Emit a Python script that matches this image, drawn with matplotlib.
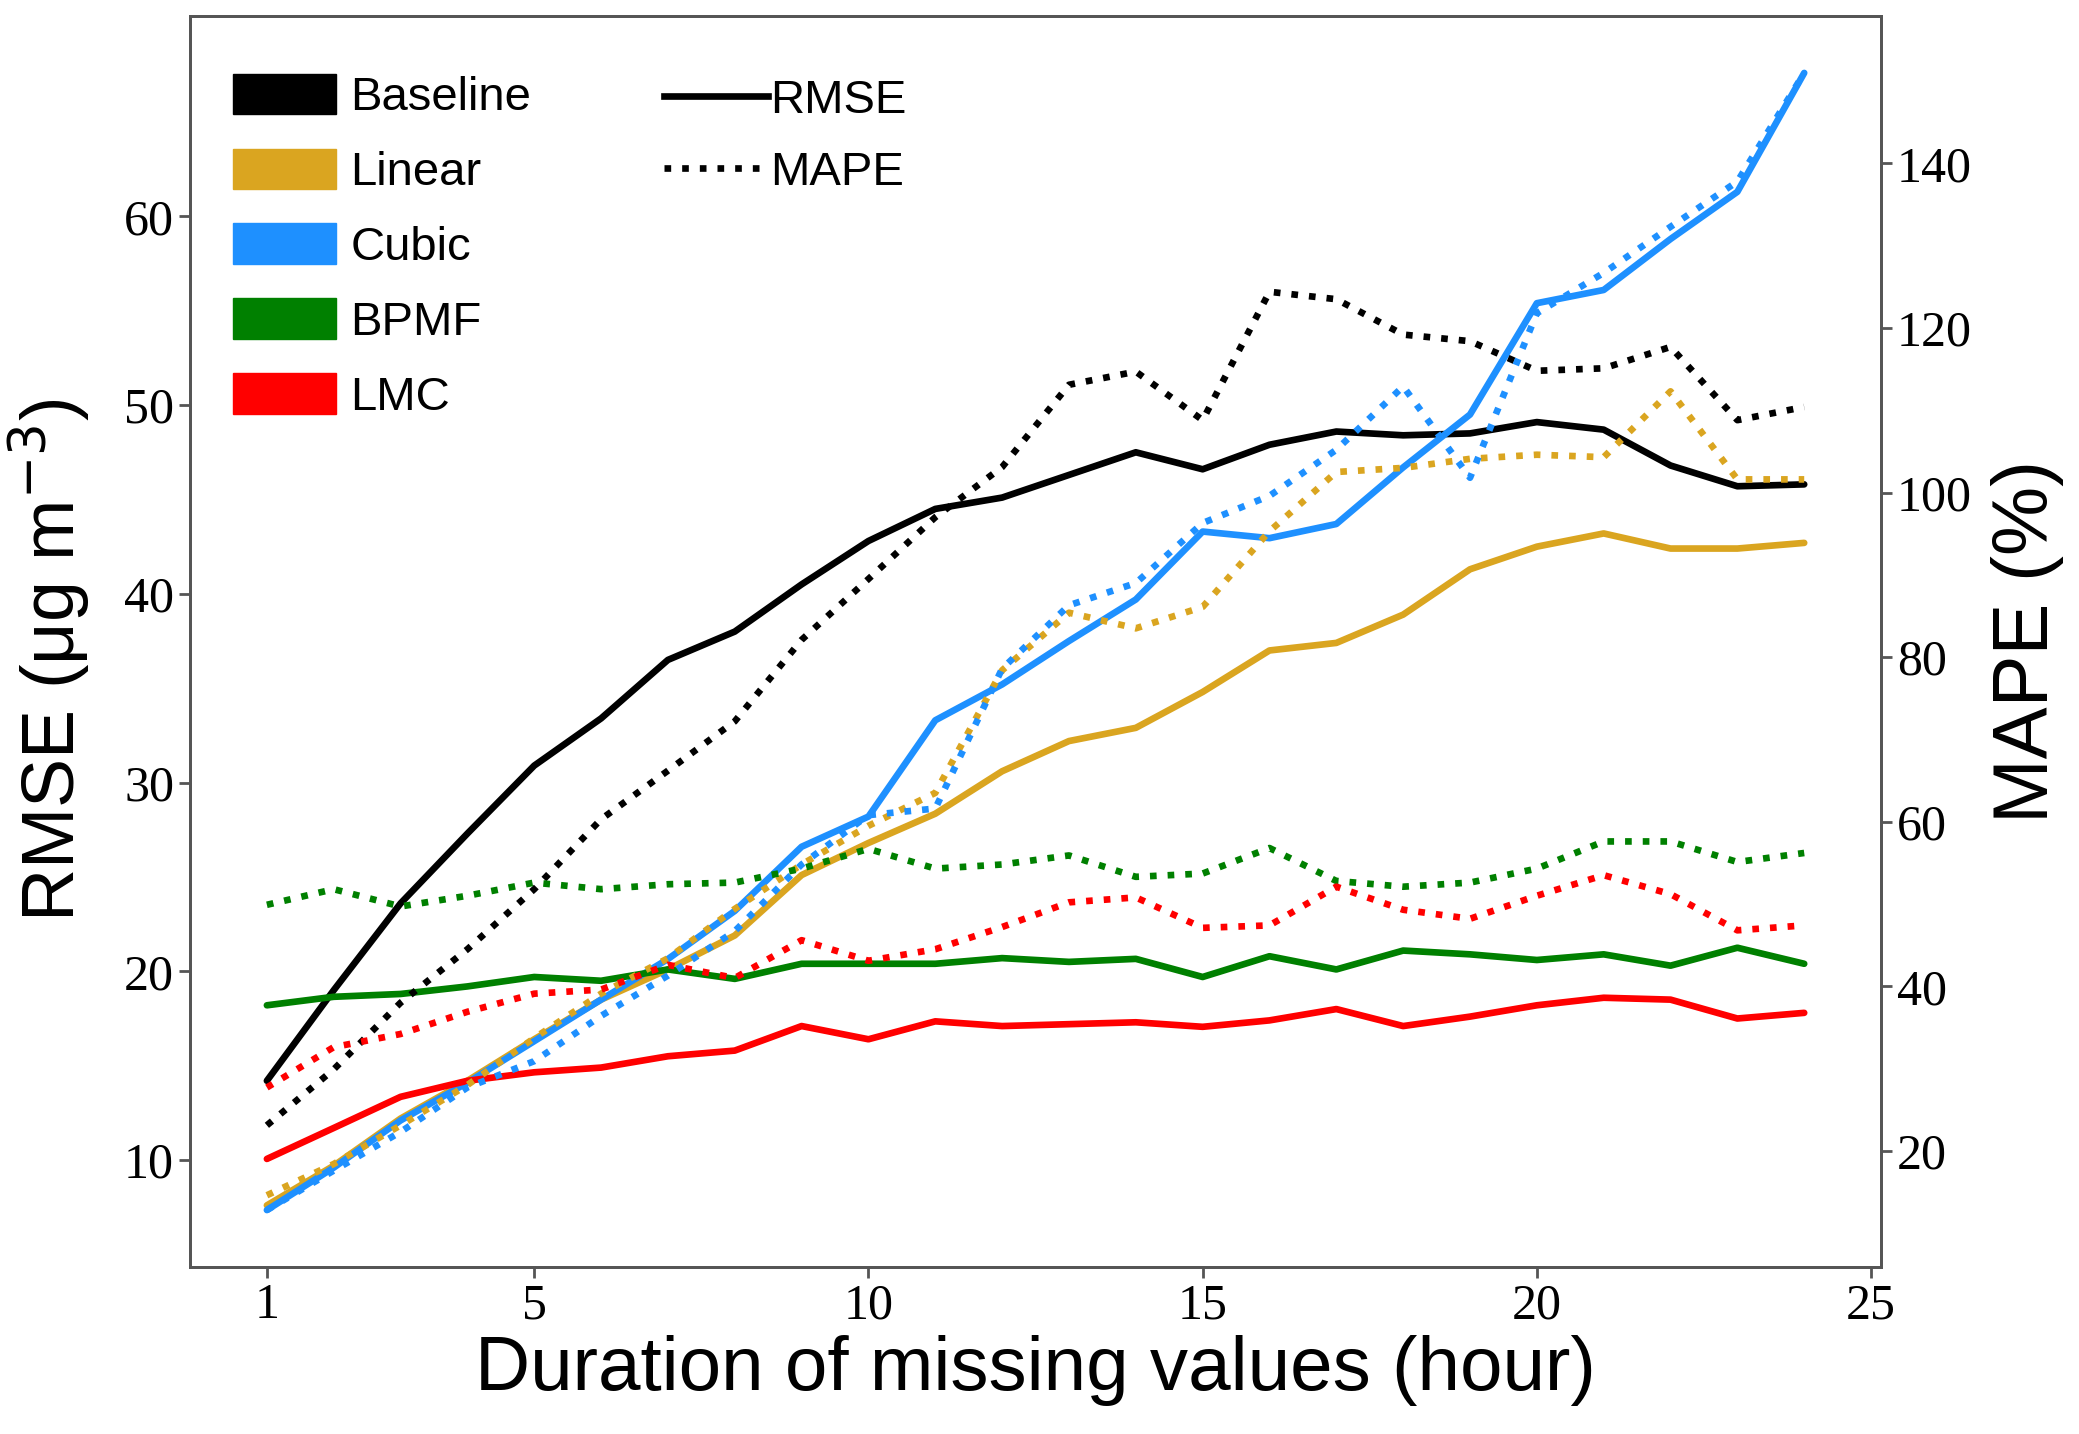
import numpy as np
import matplotlib.pyplot as plt
from matplotlib.lines import Line2D
from matplotlib.patches import Patch

# Duration of missing values (hour)
hours = np.arange(1, 25)

methods = ["Baseline", "Linear", "Cubic", "BPMF", "LMC"]
colors = ["black", "goldenrod", "dodgerblue", "green", "red"]

# RMSE (ug m-3)
rmse_baseline = [14.2, 19.0, 23.6, 27.3, 30.9, 33.4, 36.5, 38.0, 40.5, 42.8, 44.5, 45.1,
                 46.3, 47.5, 46.6, 47.9, 48.6, 48.4, 48.5, 49.1, 48.7, 46.8, 45.7, 45.8]
rmse_linear = [7.6, 9.7, 12.2, 14.2, 16.4, 18.5, 20.1, 21.9, 25.1, 26.8, 28.35, 30.6,
               32.2, 32.9, 34.8, 37.0, 37.4, 38.9, 41.3, 42.5, 43.2, 42.4, 42.4, 42.7]
rmse_cubic = [7.35, 9.6, 12.1, 14.1, 16.3, 18.5, 20.65, 23.2, 26.6, 28.2, 33.3, 35.2,
              37.5, 39.7, 43.3, 42.95, 43.7, 46.7, 49.5, 55.4, 56.1, 58.8, 61.3, 67.6]
rmse_bpmf = [18.2, 18.65, 18.8, 19.2, 19.7, 19.5, 20.1, 19.6, 20.4, 20.4, 20.4, 20.7,
             20.5, 20.66, 19.7, 20.8, 20.1, 21.1, 20.9, 20.6, 20.9, 20.3, 21.25, 20.4]
rmse_lmc = [10.06, 11.7, 13.35, 14.2, 14.65, 14.9, 15.5, 15.8, 17.1, 16.4, 17.35, 17.1,
            17.2, 17.3, 17.06, 17.4, 18.0, 17.1, 17.6, 18.2, 18.6, 18.5, 17.5, 17.8]

# MAPE (%)
mape_baseline = [23.1, 29.9, 38.0, 44.5, 51.8, 60.3, 66.2, 72.2, 82.1, 89.5, 97.0, 103.1,
                 113.1, 114.7, 108.8, 124.4, 123.5, 119.2, 118.4, 114.8, 115.1, 117.7, 108.8, 110.4]
mape_linear = [14.6, 18.4, 23.1, 28.0, 33.7, 39.1, 43.4, 49.4, 54.8, 59.5, 63.5, 78.4,
               85.4, 83.5, 86.1, 95.3, 102.5, 103.0, 104.1, 104.6, 104.3, 112.3, 101.6, 101.6]
mape_cubic = [12.8, 17.6, 22.3, 27.7, 30.9, 36.4, 41.3, 46.7, 54.8, 60.8, 61.6, 78.6,
              86.3, 89.0, 96.3, 99.6, 105.2, 112.9, 101.8, 121.8, 126.7, 132.3, 137.8, 151.0]
mape_bpmf = [49.9, 51.8, 49.7, 51.0, 52.6, 51.8, 52.4, 52.6, 54.3, 56.7, 54.3, 54.8,
             55.9, 53.3, 53.7, 56.8, 52.8, 52.1, 52.6, 54.3, 57.6, 57.6, 55.1, 56.2]
mape_lmc = [27.7, 32.6, 34.2, 36.9, 39.1, 39.6, 42.6, 41.0, 45.6, 43.1, 44.5, 47.2,
            50.2, 50.8, 47.1, 47.4, 52.1, 49.3, 48.2, 51.0, 53.5, 51.2, 46.8, 47.4]

rmse_all = [rmse_baseline, rmse_linear, rmse_cubic, rmse_bpmf, rmse_lmc]
mape_all = [mape_baseline, mape_linear, mape_cubic, mape_bpmf, mape_lmc]

serif = "Liberation Serif"
sans = "Liberation Sans"
spine_col = "#555555"

fig = plt.figure(figsize=(20.79, 14.34), dpi=100)
ax = fig.add_axes([0.0914, 0.1165, 0.8134, 0.8723])
ax2 = ax.twinx()

for rm, col in zip(rmse_all, colors):
    ax.plot(hours, rm, color=col, lw=4.8, solid_capstyle="round")
for mp, col in zip(mape_all, colors):
    ax2.plot(hours, mp, color=col, lw=4.8, linestyle=":")

ax.set_xticks([1, 5, 10, 15, 20, 25])
ax.set_yticks([10, 20, 30, 40, 50, 60])
ax2.set_yticks([20, 40, 60, 80, 100, 120, 140])

for a in (ax, ax2):
    for sp in a.spines.values():
        sp.set_color(spine_col)
        sp.set_linewidth(2)
    a.tick_params(colors=spine_col, width=2, length=8, labelcolor="black", labelsize=36)
    for lab in a.get_xticklabels() + a.get_yticklabels():
        lab.set_fontfamily(serif)

ax.set_xlabel("Duration of missing values (hour)", fontsize=55, family=sans, labelpad=4)
ax.set_ylabel("RMSE (μg m$^{-3}$)", fontsize=53, family=sans)
ax.yaxis.set_label_coords(-0.058, 0.485)
ax2.set_ylabel("MAPE (%)", fontsize=56, family=sans, labelpad=14)

# legend of methods (colour blocks)
method_handles = [Patch(facecolor=c, edgecolor=c) for c in colors]
leg1 = ax.legend(method_handles, methods, loc="upper left", bbox_to_anchor=(0.0, 0.988),
                 frameon=False, prop={"family": sans, "size": 34}, handlelength=2.2,
                 handleheight=0.95, labelspacing=0.6, handletextpad=0.3)
ax.add_artist(leg1)

# legend of metrics (line styles)
style_handles = [Line2D([], [], color="black", lw=4.8, linestyle="-"),
                 Line2D([], [], color="black", lw=4.8, linestyle=":")]
ax.legend(style_handles, ["RMSE", "MAPE"], loc="upper left", bbox_to_anchor=(0.255, 0.984),
          frameon=False, prop={"family": sans, "size": 34}, handlelength=2.2,
          labelspacing=0.6, handletextpad=0.05)

fig.savefig("out.png", dpi=100)
